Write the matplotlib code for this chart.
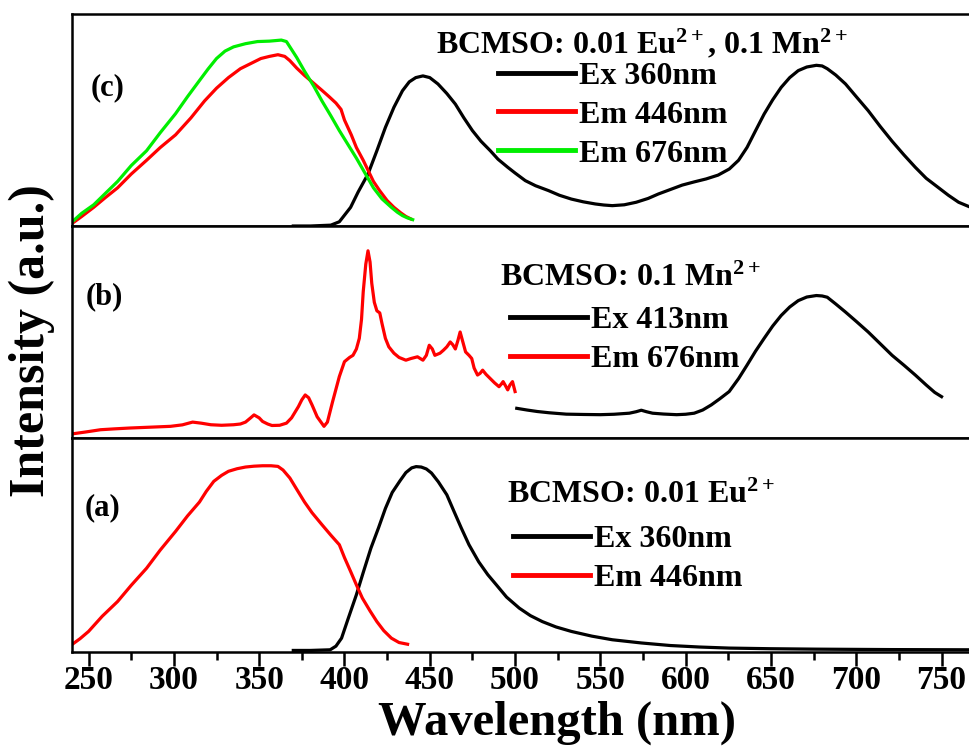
import matplotlib
matplotlib.use("Agg")
import matplotlib.pyplot as plt
from matplotlib.ticker import MultipleLocator

plt.rcParams['font.family'] = ['Liberation Serif', 'DejaVu Serif']
plt.rcParams['font.weight'] = 'bold'
plt.rcParams['mathtext.fontset'] = 'custom'
plt.rcParams['mathtext.rm'] = 'Liberation Serif:bold'
plt.rcParams['mathtext.it'] = 'Liberation Serif:bold'
plt.rcParams['mathtext.bf'] = 'Liberation Serif:bold'

# ---------------- data (normalised intensity) ----------------
# panel (c)  BCMSO: 0.01 Eu2+, 0.1 Mn2+
c_ex360_x = [370, 380, 392, 397, 403.6, 408, 413.8, 419, 424, 429, 434, 438, 441.8, 446, 450, 454.8, 460, 465, 470, 475,
             480, 485.5, 490, 495.7, 500, 506, 512, 519.6, 526, 533, 540, 547, 552, 557, 564, 571, 578, 584, 591, 598,
             605, 612, 619, 625.6, 631, 636, 641, 646, 651, 656, 661, 666, 671, 676.6, 680, 683, 688, 693.7, 700, 707,
             714, 721, 728, 734.6, 741, 748, 754, 760, 768]
c_ex360_y = [0.000, 0.000, 0.004, 0.020, 0.088, 0.160, 0.245, 0.355, 0.465, 0.560, 0.638, 0.680, 0.700, 0.708, 0.700, 0.670,
             0.625, 0.575, 0.510, 0.450, 0.400, 0.355, 0.315, 0.277, 0.250, 0.214, 0.190, 0.167, 0.145, 0.127, 0.114, 0.104,
             0.099, 0.096, 0.100, 0.112, 0.130, 0.151, 0.172, 0.193, 0.208, 0.222, 0.240, 0.269, 0.310, 0.371, 0.450, 0.528,
             0.595, 0.654, 0.700, 0.733, 0.750, 0.758, 0.755, 0.742, 0.712, 0.670, 0.610, 0.544, 0.470, 0.400, 0.335, 0.277,
             0.225, 0.182, 0.145, 0.112, 0.085]
c_em446_x = [240, 246, 253, 260, 267, 275, 284, 292, 301, 310, 318, 325, 332, 339, 346, 351, 356, 361, 365, 368, 372,
             376.6, 381, 386.8, 391, 395, 398, 400, 404, 407, 411, 414, 417, 420.6, 425, 429, 433, 436, 439]
c_em446_y = [0.010, 0.045, 0.088, 0.135, 0.180, 0.245, 0.310, 0.370, 0.430, 0.510, 0.590, 0.650, 0.700, 0.742, 0.770, 0.790,
             0.800, 0.808, 0.800, 0.780, 0.745, 0.710, 0.680, 0.640, 0.610, 0.580, 0.550, 0.500, 0.430, 0.370, 0.310, 0.260,
             0.210, 0.167, 0.120, 0.088, 0.062, 0.045, 0.033]
c_em676_x = [240, 246, 253, 260, 267, 275, 284, 292, 301, 308, 315, 320, 325, 330, 335, 342, 349, 356, 363, 366, 368,
             372, 376.6, 382, 386.8, 392, 397, 402, 407, 412, 417, 422, 427.5, 431, 434, 437, 440]
c_em676_y = [0.017, 0.060, 0.100, 0.155, 0.210, 0.285, 0.355, 0.440, 0.530, 0.610, 0.686, 0.740, 0.790, 0.825, 0.845, 0.860,
             0.870, 0.872, 0.877, 0.870, 0.845, 0.795, 0.730, 0.660, 0.590, 0.520, 0.450, 0.385, 0.320, 0.250, 0.180, 0.128,
             0.088, 0.065, 0.049, 0.038, 0.030]

# panel (b)  BCMSO: 0.1 Mn2+
b_em676_x = [240, 248, 257, 265, 274, 286, 298, 305, 311, 316, 321.7, 328, 335, 339, 342, 345, 347, 350, 352, 355, 357.5,
             362, 366, 369, 373, 375, 377, 379, 381, 384, 388, 390, 393, 397, 400, 403, 405, 407, 408.7, 410, 411, 412.5,
             413.8, 415, 416, 417.5, 419, 420.7, 422, 424, 426, 429, 432, 436, 439, 442.8, 446, 448, 449.7, 451.5, 453,
             456, 458, 460, 462, 463.5, 465, 466.5, 467.8, 469.5, 471, 473, 474.6, 476, 478, 479.5, 481, 483, 485.5, 488,
             490.6, 492, 493, 494.5, 495.7, 497, 498.5, 500]
b_em676_y = [0.019, 0.028, 0.039, 0.043, 0.047, 0.051, 0.055, 0.062, 0.075, 0.070, 0.0625, 0.060, 0.0625, 0.066, 0.075, 0.095,
             0.109, 0.095, 0.078, 0.066, 0.059, 0.060, 0.070, 0.095, 0.148, 0.180, 0.203, 0.190, 0.156, 0.100, 0.055, 0.075,
             0.170, 0.290, 0.360, 0.380, 0.390, 0.420, 0.470, 0.560, 0.690, 0.820, 0.883, 0.830, 0.730, 0.640, 0.600, 0.590,
             0.540, 0.470, 0.430, 0.400, 0.380, 0.367, 0.375, 0.383, 0.367, 0.390, 0.4375, 0.420, 0.390, 0.400, 0.414, 0.430,
             0.453, 0.440, 0.420, 0.460, 0.500, 0.450, 0.406, 0.390, 0.375, 0.330, 0.297, 0.305, 0.320, 0.300, 0.280, 0.260,
             0.242, 0.255, 0.266, 0.245, 0.227, 0.250, 0.266, 0.219]
b_ex413_x = [501, 507, 513, 520, 530, 540, 550, 558, 567, 571, 574, 577, 580.6, 587, 594.7, 600, 605, 610, 615, 620,
             625.5, 631, 636, 641, 646, 651, 656, 661, 666, 671, 676.6, 680, 683, 688, 693.7, 700, 707, 714, 721, 728,
             734.6, 741, 746, 750]
b_ex413_y = [0.140, 0.132, 0.125, 0.119, 0.1125, 0.111, 0.110, 0.112, 0.117, 0.124, 0.131, 0.124, 0.117, 0.113, 0.110, 0.112,
             0.117, 0.132, 0.156, 0.185, 0.219, 0.280, 0.344, 0.410, 0.470, 0.528, 0.578, 0.618, 0.648, 0.665, 0.672, 0.670,
             0.664, 0.632, 0.594, 0.550, 0.500, 0.445, 0.390, 0.343, 0.297, 0.250, 0.215, 0.195]

# panel (a)  BCMSO: 0.01 Eu2+
a_em446_x = [240, 245, 250, 258, 267, 275, 284, 292, 301, 308, 315, 319, 323.4, 328, 332, 337, 342, 347, 352, 357, 361,
             364, 368, 372, 376.6, 381, 386.8, 392, 397, 400, 403.6, 407, 410.5, 415, 419, 423, 427.5, 432, 437]
a_em446_y = [0.031, 0.060, 0.094, 0.165, 0.234, 0.310, 0.390, 0.475, 0.5625, 0.635, 0.700, 0.750, 0.797, 0.825, 0.844, 0.856,
             0.864, 0.868, 0.870, 0.870, 0.867, 0.850, 0.8125, 0.760, 0.700, 0.650, 0.594, 0.545, 0.500, 0.440, 0.375, 0.312,
             0.250, 0.190, 0.140, 0.098, 0.0625, 0.042, 0.034]
a_ex360_x = [370, 380, 391.6, 395, 398.3, 402, 407, 411, 415.5, 420, 424, 428, 432.6, 436, 439.4, 442, 445, 448, 451,
             455, 460, 464, 468.5, 473, 478.7, 484, 489, 495, 502.5, 509, 516, 524, 533, 545, 557, 574, 591, 608, 625.5,
             650, 676.6, 720, 768]
a_ex360_y = [0.005, 0.005, 0.008, 0.025, 0.0625, 0.150, 0.266, 0.370, 0.484, 0.580, 0.670, 0.745, 0.800, 0.838, 0.860, 0.866,
             0.864, 0.855, 0.836, 0.795, 0.734, 0.660, 0.578, 0.500, 0.420, 0.360, 0.3125, 0.255, 0.203, 0.168, 0.140, 0.115,
             0.094, 0.072, 0.055, 0.040, 0.028, 0.021, 0.016, 0.013, 0.011, 0.009, 0.008]

tick_values = [250, 300, 350, 400, 450, 500, 550, 600, 650, 700, 750]
panel_labels = ['(c)', '(b)', '(a)']
titles = [r'BCMSO: 0.01 Eu$^{2+}$, 0.1 Mn$^{2+}$', r'BCMSO: 0.1 Mn$^{2+}$', r'BCMSO: 0.01 Eu$^{2+}$']

# ---------------- figure ----------------
W, H = 970, 754
fig = plt.figure(figsize=(W / 100, H / 100), dpi=100)

x0, x1 = 240, 780
px_per_nm = 1.706
left_px = 71.5
width_px = (x1 - x0) * px_per_nm

def fx(x):
    return x / W

def fy(y):
    return 1 - y / H

panel_px = [(14, 226), (226, 438), (438, 651.5)]
axes = []
for (top, bot) in panel_px:
    ax = fig.add_axes([fx(left_px), fy(bot), width_px / W, (bot - top) / H])
    ax.set_xlim(x0, x1)
    ax.set_ylim(0, 1)
    ax.set_yticks([])
    for s in ax.spines.values():
        s.set_linewidth(1.8)
    ax.xaxis.set_major_locator(MultipleLocator(50))
    axes.append(ax)

lw = 2.3
axc, axb, axa = axes
l1, = axc.plot(c_ex360_x, c_ex360_y, color='black', lw=lw, label='Ex 360nm')
l2, = axc.plot(c_em446_x, c_em446_y, color='#ff0000', lw=lw, label='Em 446nm')
l3, = axc.plot(c_em676_x, c_em676_y, color='#00ee00', lw=lw, label='Em 676nm')
m1, = axb.plot(b_ex413_x, b_ex413_y, color='black', lw=lw, label='Ex 413nm')
m2, = axb.plot(b_em676_x, b_em676_y, color='#ff0000', lw=lw, label='Em 676nm')
n1, = axa.plot(a_ex360_x, a_ex360_y, color='black', lw=lw, label='Ex 360nm')
n2, = axa.plot(a_em446_x, a_em446_y, color='#ff0000', lw=lw, label='Em 446nm')

# ticks
for ax in (axc, axb):
    ax.tick_params(axis='x', which='major', direction='out', length=10, width=1.8,
                   labelbottom=False)
axa.xaxis.set_minor_locator(MultipleLocator(25))
axa.tick_params(axis='x', which='major', direction='out', length=10, width=1.8,
                labelsize=24, pad=0)
axa.tick_params(axis='x', which='minor', direction='out', length=6, width=1.8)
axa.set_xticks(tick_values)
axa.set_xticklabels([str(v) for v in tick_values])

fig.text(fx(557), fy(723), 'Wavelength (nm)', fontsize=35, fontweight='bold',
         ha='center', va='center')
fig.text(fx(32), fy(341), 'Intensity (a.u.)', rotation=90, fontsize=36, fontweight='bold',
         ha='center', va='center')

# panel labels
for lab, (x, y) in zip(panel_labels, [(108, 88), (104, 297), (103, 508)]):
    fig.text(fx(x), fy(y), lab, fontsize=22, fontweight='bold', ha='center', va='center')

# titles
for t, (x, y) in zip(titles, [(436, 44), (500, 278), (507, 495)]):
    fig.text(fx(x), fy(y), t, fontsize=23, fontweight='bold', ha='left', va='center')

# legends
leg_specs = [(axc, [l1, l2, l3], (498, 115)), (axb, [m1, m2], (510, 340)), (axa, [n1, n2], (513, 559))]
for ax, handles, (x, y) in leg_specs:
    leg = ax.legend(handles=handles, loc='center left', bbox_to_anchor=(fx(x), fy(y)),
                    bbox_transform=fig.transFigure, frameon=False, fontsize=23,
                    handlelength=2.4, handletextpad=0.15, labelspacing=0.3,
                    borderpad=0, borderaxespad=0)
    for ln in leg.get_lines():
        ln.set_linewidth(3.5)

fig.savefig('out.png', dpi=100)
